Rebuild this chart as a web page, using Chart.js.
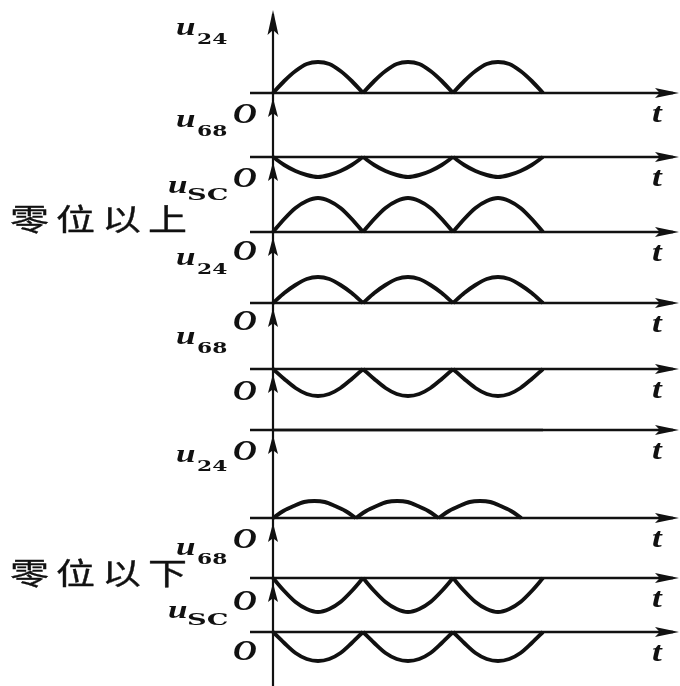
<!DOCTYPE html>
<html>
<head>
<meta charset="utf-8">
<script src="https://cdn.jsdelivr.net/npm/chart.js@4.4.1/dist/chart.umd.min.js"></script>
<style>
  html, body { margin: 0; padding: 0; background: #fff; }
  #wrap { width: 680px; height: 686px; position: relative; }
</style>
</head>
<body>
<div id="wrap"><canvas id="chart"></canvas></div>
<script>
// time samples (one hump = half a period = 1 unit)
const tNormal = [0, 0.125, 0.25, 0.375, 0.5, 0.625, 0.75, 0.875,
                 1, 1.125, 1.25, 1.375, 1.5, 1.625, 1.75, 1.875,
                 2, 2.125, 2.25, 2.375, 2.5, 2.625, 2.75, 2.875, 3];
const tShort  = [0, 0.115, 0.23, 0.345, 0.46, 0.575, 0.69, 0.805,
                 0.92, 1.035, 1.15, 1.265, 1.38, 1.495, 1.61, 1.725,
                 1.84, 1.955, 2.07, 2.185, 2.3, 2.415, 2.53, 2.645, 2.76];

// 零位以上
const u24Above = [0, 12, 22, 29, 31, 29, 22, 12, 0, 12, 22, 29, 31, 29, 22, 12, 0, 12, 22, 29, 31, 29, 22, 12, 0];
const u68Above = [0, -8, -14, -18, -20, -18, -14, -8, 0, -8, -14, -18, -20, -18, -14, -8, 0, -8, -14, -18, -20, -18, -14, -8, 0];
const uscAbove = [0, 13, 24, 31, 34, 31, 24, 13, 0, 13, 24, 31, 34, 31, 24, 13, 0, 13, 24, 31, 34, 31, 24, 13, 0];
// 零位
const u24Zero = [0, 10, 18, 24, 26, 24, 18, 10, 0, 10, 18, 24, 26, 24, 18, 10, 0, 10, 18, 24, 26, 24, 18, 10, 0];
const u68Zero = [0, -10, -19, -25, -27, -25, -19, -10, 0, -10, -19, -25, -27, -25, -19, -10, 0, -10, -19, -25, -27, -25, -19, -10, 0];
const uscZero = [0, 0, 0, 0, 0, 0, 0, 0, 0, 0, 0, 0, 0, 0, 0, 0, 0, 0, 0, 0, 0, 0, 0, 0, 0];
// 零位以下
const u24Below = [0, 7, 12, 16, 17, 16, 12, 7, 0, 7, 12, 16, 17, 16, 12, 7, 0, 7, 12, 16, 17, 16, 12, 7, 0];
const u68Below = [0, -13, -24, -31, -34, -31, -24, -13, 0, -13, -24, -31, -34, -31, -24, -13, 0, -13, -24, -31, -34, -31, -24, -13, 0];
const uscBelow = [0, -11, -21, -27, -29, -27, -21, -11, 0, -11, -21, -27, -29, -27, -21, -11, 0, -11, -21, -27, -29, -27, -21, -11, 0];

const traces = [
  { t: tNormal, v: u24Above, name: '24', labelDy: -58 },
  { t: tNormal, v: u68Above, name: '68', labelDy: -30 },
  { t: tNormal, v: uscAbove, name: 'SC', labelDy: -39 },
  { t: tNormal, v: u24Zero,  name: '24', labelDy: -38 },
  { t: tNormal, v: u68Zero,  name: '68', labelDy: -25 },
  { t: tNormal, v: uscZero,  name: null },
  { t: tShort,  v: u24Below, name: '24', labelDy: -56 },
  { t: tNormal, v: u68Below, name: '68', labelDy: -23 },
  { t: tNormal, v: uscBelow, name: 'SC', labelDy: -14 }
];

// layout (pixels)
const rowBase = [93, 157, 232, 303, 369, 430, 518, 578, 632];
const oDy = [30, 30, 28, 27, 31, 30, 30, 32, 28];
const ORIGIN_PX = 273, HUMP_PX = 90, W = 680, H = 686;
const AXIS_LEFT = 250, AXIS_TIP = 679;
const STEP = 8; // samples per hump
const INK = '#111';

// one dataset per hump so the joins stay sharp
const datasets = [];
traces.forEach((tr, r) => {
  const flat = tr.v.every(v => v === 0);
  for (let h = 0; h * STEP < tr.v.length - 1; h++) {
    const pts = [];
    for (let k = h * STEP; k <= h * STEP + STEP; k++) {
      pts.push({ x: tr.t[k], y: rowBase[r] - tr.v[k] });
    }
    datasets.push({
      data: pts,
      borderColor: INK,
      borderWidth: flat ? 2.4 : 3.9,
      pointRadius: 0,
      fill: false,
      cubicInterpolationMode: 'monotone'
    });
  }
});

function upArrow(ctx, x, tip, len, hw) {
  ctx.beginPath();
  ctx.moveTo(x, tip);
  ctx.lineTo(x - hw, tip + len);
  ctx.lineTo(x, tip + len * 0.8);
  ctx.lineTo(x + hw, tip + len);
  ctx.closePath();
  ctx.fill();
}

function rightArrow(ctx, tip, y, len, hh) {
  ctx.beginPath();
  ctx.moveTo(tip, y);
  ctx.lineTo(tip - len, y - hh);
  ctx.lineTo(tip - len * 0.8, y);
  ctx.lineTo(tip - len, y + hh);
  ctx.closePath();
  ctx.fill();
}

function stretchText(ctx, text, x, y, font, sx, stroke) {
  ctx.save();
  ctx.translate(x, y);
  ctx.scale(sx, 1);
  ctx.font = font;
  ctx.fillText(text, 0, 0);
  if (stroke) {
    ctx.lineWidth = stroke;
    ctx.strokeStyle = ctx.fillStyle;
    ctx.strokeText(text, 0, 0);
  }
  ctx.restore();
}

const axesPlugin = {
  id: 'axes',
  beforeDatasetsDraw(chart) {
    const { ctx, scales: { x, y } } = chart;
    const x0 = x.getPixelForValue(0);
    ctx.save();
    ctx.strokeStyle = INK;
    ctx.fillStyle = INK;

    // vertical axis
    ctx.lineWidth = 2.2;
    ctx.beginPath();
    ctx.moveTo(x0, 14);
    ctx.lineTo(x0, H);
    ctx.stroke();
    upArrow(ctx, x0, 10, 25, 5.5);

    // time axes
    ctx.lineWidth = 2.4;
    rowBase.forEach((b, r) => {
      const yb = y.getPixelForValue(b);
      ctx.beginPath();
      ctx.moveTo(AXIS_LEFT, yb);
      ctx.lineTo(AXIS_TIP - 6, yb);
      ctx.stroke();
      rightArrow(ctx, AXIS_TIP, yb, 24, 5);
      if (r < rowBase.length - 1) upArrow(ctx, x0, yb + 5, 19, 5);
    });
    ctx.restore();
  },
  afterDatasetsDraw(chart) {
    const { ctx, scales: { x, y } } = chart;
    const x0 = x.getPixelForValue(0);
    ctx.save();
    ctx.fillStyle = INK;
    ctx.textAlign = 'left';
    ctx.textBaseline = 'alphabetic';

    rowBase.forEach((b, r) => {
      const yb = y.getPixelForValue(b);
      stretchText(ctx, 'O', x0 - 40, yb + oDy[r], 'bold italic 30px "Liberation Serif"', 1.1);
      stretchText(ctx, 't', 652, yb + 29, 'bold italic 27px "Liberation Serif"', 1.3);
      const tr = traces[r];
      if (tr.name) {
        const ub = yb + tr.labelDy;
        const ux = tr.name === 'SC' ? 168 : 176;
        stretchText(ctx, 'u', ux, ub, 'bold italic 26px "Liberation Serif"', 1.35);
        if (tr.name === 'SC') {
          stretchText(ctx, 'SC', ux + 19, ub + 7, 'bold 17px "DejaVu Serif"', 1.6);
        } else {
          stretchText(ctx, tr.name, ux + 21, ub + 9, 'bold 15px "DejaVu Serif"', 1.45);
        }
      }
    });

    // group titles
    ctx.textBaseline = 'middle';
    const groups = [
      { text: '零位以上', y: 219 },
      { text: '零位以下', y: 573 }
    ];
    groups.forEach(g => {
      [...g.text].forEach((ch, i) => {
        stretchText(ctx, ch, 10 + i * 46, g.y, '30px "Noto Sans CJK SC"', 1.3, 0.35);
      });
    });
    ctx.restore();
  }
};

new Chart(document.getElementById('chart'), {
  type: 'line',
  data: { datasets: datasets },
  options: {
    responsive: true,
    maintainAspectRatio: false,
    animation: false,
    layout: { padding: 0 },
    plugins: { legend: { display: false }, tooltip: { enabled: false } },
    scales: {
      x: { type: 'linear', display: false, min: -ORIGIN_PX / HUMP_PX, max: (W - ORIGIN_PX) / HUMP_PX },
      y: { type: 'linear', display: false, min: 0, max: H, reverse: true }
    }
  },
  plugins: [axesPlugin]
});
</script>
</body>
</html>
